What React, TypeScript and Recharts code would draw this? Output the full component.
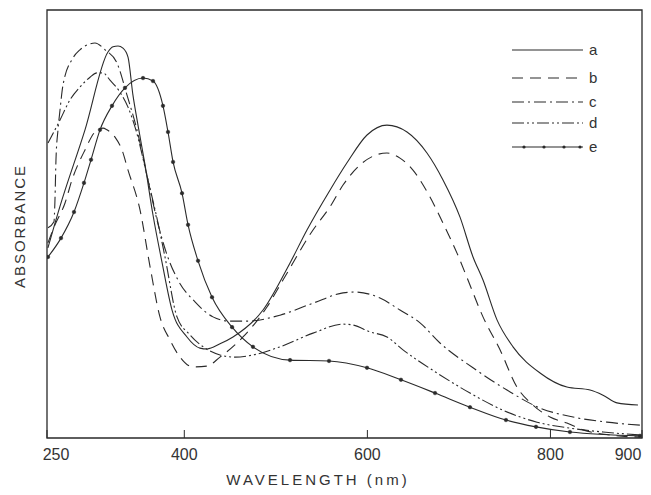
import { LineChart, Line, XAxis, YAxis, ReferenceArea, Legend, Label } from 'recharts';

// wavelength (nm) and absorbance (arb. units, 0..1 of the frame)
const WL_A = [251, 264, 291.5, 316.6, 322.1, 327.6, 333, 338.5, 343.9, 349.4, 357.1, 365.8, 375.6, 386.6, 402.9, 417.1, 424.8, 439, 453.2, 486, 515.5, 534, 559.1, 577.7, 599.6, 621.4, 643.3, 665.1, 682.6, 701.2, 715.4, 726.3, 741.6, 759.1, 788.6, 818, 843.2, 857.4, 872.7, 895.6];
const ABS_A = [0.444, 0.54, 0.72, 0.902, 0.914, 0.916, 0.911, 0.89, 0.801, 0.731, 0.638, 0.521, 0.411, 0.299, 0.236, 0.21, 0.208, 0.22, 0.236, 0.299, 0.409, 0.486, 0.579, 0.643, 0.708, 0.731, 0.715, 0.666, 0.603, 0.516, 0.423, 0.369, 0.276, 0.213, 0.152, 0.119, 0.112, 0.1, 0.082, 0.077];

const WL_B = [251, 258.7, 269.7, 277.3, 291.5, 302.4, 311.2, 315.5, 324.3, 331.9, 338.5, 351.6, 362.6, 373.4, 384.4, 395.3, 409.5, 424.8, 439, 464.1, 490.3, 507.8, 540.6, 559.1, 573.4, 592, 621.4, 635.6, 649.8, 668.4, 682.6, 697.9, 709.9, 726.3, 744.9, 763.4, 780.9, 799.5, 818, 835.5, 865, 897.8];
const ABS_B = [0.456, 0.498, 0.549, 0.603, 0.673, 0.715, 0.724, 0.72, 0.703, 0.673, 0.626, 0.533, 0.4, 0.283, 0.229, 0.189, 0.166, 0.168, 0.189, 0.236, 0.306, 0.369, 0.486, 0.54, 0.591, 0.638, 0.666, 0.654, 0.626, 0.563, 0.502, 0.432, 0.369, 0.283, 0.206, 0.119, 0.077, 0.049, 0.035, 0.019, 0.007, 0.002];

const WL_C = [251.1, 257.6, 258.7, 259.8, 262, 264.2, 267.5, 278.4, 286, 297, 302.4, 313.4, 326.5, 337.4, 348.3, 359.2, 370.2, 381.1, 393.1, 411.7, 431.3, 449.9, 468.5, 504.5, 540.6, 573.4, 586.5, 613.8, 635.6, 657.5, 679.3, 715.4, 752.5, 788.6, 824.6, 861.7, 897.8];
const ABS_C = [0.491, 0.505, 0.556, 0.65, 0.72, 0.766, 0.825, 0.888, 0.907, 0.921, 0.923, 0.907, 0.876, 0.801, 0.72, 0.614, 0.509, 0.428, 0.369, 0.318, 0.283, 0.273, 0.273, 0.287, 0.315, 0.339, 0.341, 0.327, 0.299, 0.269, 0.222, 0.164, 0.112, 0.07, 0.049, 0.037, 0.03];

const WL_D = [251.1, 264.2, 275.1, 286, 297, 304.6, 311.2, 318.8, 329.7, 338.5, 346.1, 360.3, 371.3, 378.9, 392, 406.2, 422.6, 439, 455.4, 475, 504.5, 540.6, 573.4, 584.3, 602.8, 621.4, 638.9, 676, 712.1, 748.1, 785.3, 821.3, 857.4, 897.8];
const ABS_D = [0.689, 0.743, 0.79, 0.82, 0.843, 0.853, 0.853, 0.836, 0.808, 0.773, 0.727, 0.603, 0.502, 0.423, 0.283, 0.241, 0.21, 0.194, 0.189, 0.194, 0.213, 0.245, 0.266, 0.264, 0.248, 0.236, 0.206, 0.152, 0.105, 0.065, 0.037, 0.023, 0.014, 0.007];

const WL_E = [251.1, 265.3, 279.5, 290.4, 298.1, 307.9, 321, 335.2, 354.9, 365.8, 376.7, 382.2, 387.7, 397.5, 404.1, 415, 430.3, 452.2, 475, 515.5, 558.1, 599.6, 636.7, 673.9, 712.1, 751.4, 784.2, 821.3, 897.8];
const ABS_E = [0.423, 0.467, 0.528, 0.596, 0.65, 0.72, 0.776, 0.818, 0.841, 0.834, 0.776, 0.715, 0.645, 0.572, 0.498, 0.414, 0.329, 0.259, 0.213, 0.182, 0.18, 0.164, 0.136, 0.105, 0.072, 0.042, 0.026, 0.014, 0.005];

const X_TICKS = [250, 400, 600, 800, 900];
const KEYS = ['a', 'b', 'c', 'd', 'e'];

const toPoints = (wl: number[], abs: number[]) => wl.map((w, i) => ({ wl: w, abs: abs[i] }));

const SERIES = [
  { key: 'a', data: toPoints(WL_A, ABS_A) },
  { key: 'b', data: toPoints(WL_B, ABS_B) },
  { key: 'c', data: toPoints(WL_C, ABS_C) },
  { key: 'd', data: toPoints(WL_D, ABS_D) },
  { key: 'e', data: toPoints(WL_E, ABS_E) },
];

const INK = '#2a2a2a';
const FONT = '"Liberation Sans", Arial, sans-serif';
const DASH: Record<string, string | undefined> = {
  a: undefined,
  b: '11 7',
  c: '12 4 2 4',
  d: '12 3 2 3 2 3',
  e: undefined,
};
const LEGEND_Y = [10, 38, 62, 83, 107];

function WlTick({ x, y, payload }: any) {
  // end labels sit inside the frame corners in the original
  const shift = payload.value === 250 ? 9 : payload.value === 900 ? -8 : 0;
  return (
    <text x={x + shift} y={y + 22} textAnchor="middle" fontSize={16} fontFamily={FONT} fill="#333">
      {payload.value}
    </text>
  );
}

function renderLegend() {
  return (
    <svg width={110} height={120}>
      {KEYS.map((k, i) => (
        <g key={k}>
          <line x1={4} x2={75} y1={LEGEND_Y[i]} y2={LEGEND_Y[i]} stroke={INK} strokeWidth={1.1} strokeDasharray={DASH[k]} />
          {k === 'e' && [16, 36, 56, 72].map(cx => <circle key={cx} cx={cx} cy={LEGEND_Y[i]} r={1.6} fill={INK} />)}
          <text x={81} y={LEGEND_Y[i] + 5} fontSize={15} fontFamily={FONT} fill="#333">{k}</text>
        </g>
      ))}
    </svg>
  );
}

export default function App() {
  return (
    <LineChart width={640} height={480} margin={{ top: 2, right: 6, bottom: 20, left: 39 }}>
      <XAxis
        dataKey="wl"
        type="number"
        domain={[250, 900]}
        ticks={X_TICKS}
        allowDataOverflow
        height={30}
        axisLine={false}
        tickLine={{ stroke: INK }}
        tickSize={-8}
        tickMargin={8}
        tick={<WlTick />}
      >
        <Label
          content={() => (
            <g>
              <text x={310} y={477} textAnchor="middle" fontSize={15} letterSpacing={3} fontFamily={FONT} fill="#333">
                WAVELENGTH (nm)
              </text>
              <text
                transform="translate(11, 218) rotate(-90)"
                textAnchor="middle"
                dominantBaseline="central"
                fontSize={15}
                letterSpacing={2}
                fontFamily={FONT}
                fill="#333"
              >
                ABSORBANCE
              </text>
            </g>
          )}
        />
      </XAxis>
      <YAxis width={0} type="number" domain={[0, 1]} tick={false} axisLine={false} tickLine={false} />
      <ReferenceArea x1={250} x2={900} y1={0} y2={1} fill="none" stroke={INK} strokeWidth={1.3} ifOverflow="visible" />
      {SERIES.map(s => (
        <Line
          key={s.key}
          data={s.data}
          dataKey="abs"
          name={s.key}
          type="monotone"
          stroke={INK}
          strokeWidth={1.1}
          strokeDasharray={DASH[s.key]}
          dot={s.key === 'e' ? { r: 1.8, fill: INK, stroke: INK, strokeWidth: 0.5 } : false}
          isAnimationActive={false}
        />
      ))}
      <Legend layout="vertical" align="center" verticalAlign="middle" wrapperStyle={{ left: 500, top: 32, width: 110 }} content={renderLegend} />
    </LineChart>
  );
}
